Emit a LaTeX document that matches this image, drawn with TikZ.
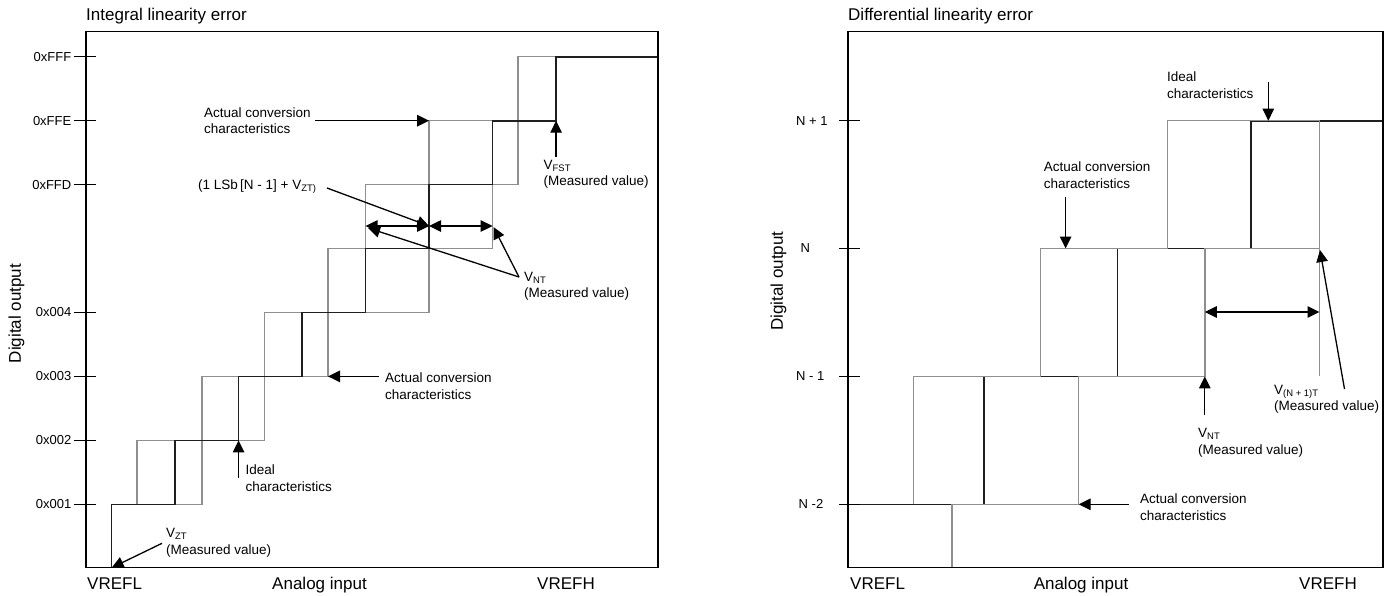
\documentclass[tikz,border=0pt]{standalone}
\usepackage{fontspec}
\setmainfont{Liberation Sans}
\usetikzlibrary{arrows.meta}
\begin{document}
\begin{tikzpicture}[x=1pt,y=-1pt,
  frame/.style={line width=1.4pt, draw=black},
  ideal/.style={line width=1.6pt, draw=black!88},
  actual/.style={line width=1.4pt, draw=black!44},
  tickmark/.style={line width=1.4pt, draw=black},
  ann/.style={font=\fontsize{13.5}{16.5}\selectfont, inner sep=0pt, align=left, anchor=north west},
  ptr/.style={line width=1.3pt, -{Triangle[length=12pt,width=11.5pt]}},
  dptr/.style={line width=1.3pt, {Triangle[length=12pt,width=11.5pt]}-{Triangle[length=12pt,width=11.5pt]}},
  axl/.style={font=\fontsize{17}{20}\selectfont, inner sep=0pt},
  tkl/.style={font=\fontsize{13}{15}\selectfont, inner sep=0pt}
]
\useasboundingbox (0,0) rectangle (1389,595);

% ================= LEFT: Integral linearity error =================
\node[axl, anchor=base west] (ttl1) at (86,20.7) {Integral linearity error};

% actual (gray) staircases
\draw[actual] (137,504.3)--(137,440.4)--(202,440.4)--(202,376.4)--(264.5,376.4)--(264.5,312.5)
  --(328,312.5)--(328,248.5)--(365.6,248.5)--(365.6,184.6)--(429.1,184.6)--(429.1,120.7)
  --(518,120.7)--(518,56.7)--(556.1,56.7);
\draw[actual] (137,504.3)--(202,504.3)--(202,440.4)--(264.5,440.4)--(264.5,376.4)--(328,376.4)
  --(328,312.5)--(429.1,312.5)--(429.1,248.5)--(492.6,248.5)--(492.6,184.6)--(518,184.6)
  --(518,120.7)--(556.1,120.7);
% ideal (black) staircase
\draw[ideal] (111.6,567.7)--(111.6,504.3)--(175.1,504.3)--(175.1,440.4)--(238.6,440.4)--(238.6,376.4)
  --(302.1,376.4)--(302.1,312.5)--(365.6,312.5)--(365.6,248.5)--(429.1,248.5)--(429.1,184.6)
  --(492.6,184.6)--(492.6,120.7)--(556.1,120.7)--(556.1,56.7)--(658,56.7);

\draw[frame] (86,31.7) rectangle (658,567.7);
\foreach \yy/\lab in {504.3/0x001, 440.4/0x002, 376.4/0x003, 312.5/0x004, 184.6/0xFFD, 120.7/0xFFE, 56.7/0xFFF}{
  \draw[tickmark] (73.5,\yy) -- (96,\yy);
  \node[tkl, anchor=east] (lt\lab) at (71.5,\yy) {\lab};
}
\node[axl, rotate=90] (yl1) at (16.5,313.5) {Digital output};
\node[axl, anchor=base west] (vl1) at (87,589.3) {VREFL};
\node[axl, anchor=base] (ai1) at (319.5,589.3) {Analog input};
\node[axl, anchor=base] (vh1) at (566,589.3) {VREFH};

% annotations
\node[ann] (acc1) at (204,107.3) {Actual conversion\\characteristics};
\coordinate (acc1s) at (315,120.7);
\coordinate (acc1e) at (429.1,120.7);
\draw[ptr] (acc1s) -- (acc1e);

\node[ann] (vfst) at (543.5,160) {V\textsubscript{FST}\\(Measured value)};
\coordinate (vfsts) at (556.1,157);
\coordinate (vfste) at (556.1,120.7);
\draw[ptr] (vfsts) -- (vfste);

\node[ann] (lsb) at (198,179.5) {(1 LSb\,[N - 1] + V\textsubscript{ZT)}};
\coordinate (lsbs) at (327,188);
\coordinate (mid) at (429.1,226);
\draw[ptr] (lsbs) -- (mid);

\coordinate (dl) at (365.6,226);
\coordinate (dr) at (492.6,226);
\draw[dptr] (dl) -- (mid);
\draw[dptr] (mid) -- (dr);

\node[ann] (vnt1) at (524,271.7) {V\textsubscript{NT}\\(Measured value)};
\coordinate (vnts) at (519,277);
\coordinate (vnte1) at (368,228);
\coordinate (vnte2) at (493.5,227);
\draw[ptr] (vnts) -- (vnte1);
\draw[ptr] (vnts) -- (vnte2);

\node[ann] (acc2) at (385,372.7) {Actual conversion\\characteristics};
\coordinate (acc2s) at (378.7,376.4);
\coordinate (acc2e) at (328,376.4);
\draw[ptr] (acc2s) -- (acc2e);

\node[ann] (id1) at (245.5,465) {Ideal\\characteristics};
\coordinate (id1s) at (238.6,478);
\coordinate (id1e) at (238.6,440.4);
\draw[ptr] (id1s) -- (id1e);

\node[ann] (vzt) at (166,528.3) {V\textsubscript{ZT}\\(Measured value)};
\coordinate (vzts) at (162,543.3);
\coordinate (vzte) at (111.7,567.7);
\draw[ptr] (vzts) -- (vzte);

% ================= RIGHT: Differential linearity error =================
\node[axl, anchor=base west] (ttl2) at (848,20.7) {Differential linearity error};

% ideal (black) first
\draw[ideal] (848,504.3)--(983.7,504.3)--(983.7,376.4)--(1117.3,376.4)--(1117.3,248.5)
  --(1250.8,248.5)--(1250.8,120.7)--(1383,120.7);
% actual (gray) on top
\draw[actual] (913.7,504.3)--(913.7,376.4)--(1040.6,376.4)--(1040.6,248.5)--(1167.2,248.5)
  --(1167.2,120.7)--(1319.5,120.7);
\draw[actual] (951.8,567.7)--(951.8,504.3)--(1078.7,504.3)--(1078.7,376.4)--(1204.8,376.4)
  --(1204.8,248.5)--(1319.5,248.5)--(1319.5,120.7);
\draw[actual] (1319.5,376.4)--(1319.5,248.5);

\draw[frame] (848,31.7) rectangle (1383,567.7);
\foreach \yy/\lab/\xx/\nm in {120.7/N + 1/796/a, 248.5/N/800.5/b, 376.4/N - 1/796/c, 504.3/N -2/798.5/d}{
  \draw[tickmark] (838.8,\yy) -- (859.8,\yy);
  \node[tkl, anchor=west] (rt\nm) at (\xx,\yy) {\lab};
}
\node[axl, rotate=90] (yl2) at (778.5,281) {Digital output};
\node[axl, anchor=base west] (vl2) at (850,589.3) {VREFL};
\node[axl, anchor=base] (ai2) at (1081,589.3) {Analog input};
\node[axl, anchor=base] (vh2) at (1328,589.3) {VREFH};

\node[ann] (id2) at (1167,71.7) {Ideal\\characteristics};
\coordinate (id2s) at (1268.3,82);
\coordinate (id2e) at (1268.3,120.7);
\draw[ptr] (id2s) -- (id2e);

\node[ann] (acc3) at (1043.7,161.7) {Actual conversion\\characteristics};
\coordinate (acc3s) at (1065.6,197);
\coordinate (acc3e) at (1065.6,248.5);
\draw[ptr] (acc3s) -- (acc3e);

\coordinate (d2l) at (1204.8,312);
\coordinate (d2r) at (1319.5,312);
\draw[dptr] (d2l) -- (d2r);

\node[ann] (vnt2) at (1198,428.3) {V\textsubscript{NT}\\(Measured value)};
\coordinate (vnt2s) at (1204.8,415);
\coordinate (vnt2e) at (1204.8,376.4);
\draw[ptr] (vnt2s) -- (vnt2e);

\node[ann] (vn1t) at (1274,385) {V\textsubscript{(N + 1)T}\\(Measured value)};
\coordinate (vn1ts) at (1344.5,389);
\coordinate (vn1te) at (1320,250);
\draw[ptr] (vn1ts) -- (vn1te);

\node[ann] (acc4) at (1140,494) {Actual conversion\\characteristics};
\coordinate (acc4s) at (1129,504.3);
\coordinate (acc4e) at (1078.7,504.3);
\draw[ptr] (acc4s) -- (acc4e);
\end{tikzpicture}
\end{document}
